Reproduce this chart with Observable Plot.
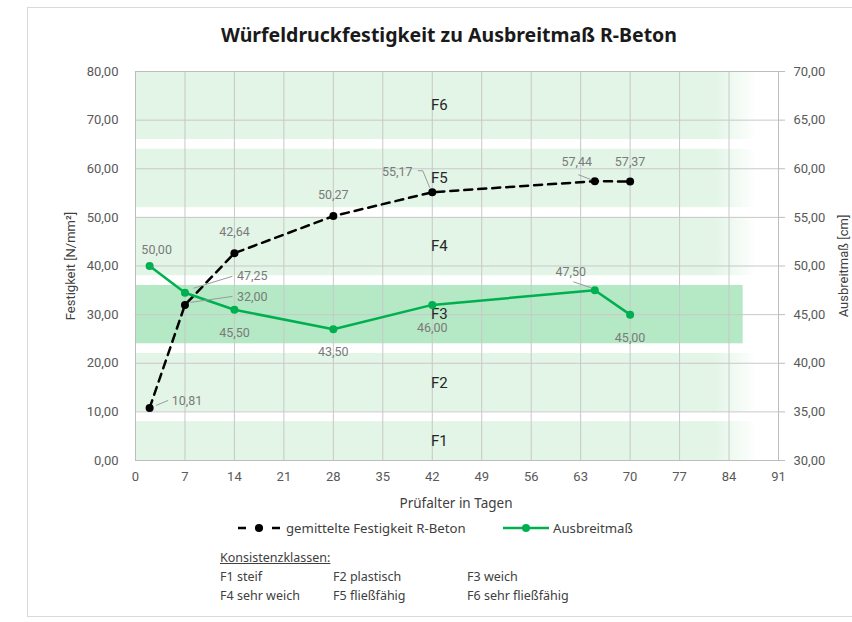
<!DOCTYPE html>
<html>
<head>
<meta charset="utf-8">
<script src="https://cdn.jsdelivr.net/npm/d3@7"></script>
<script src="https://cdn.jsdelivr.net/npm/@observablehq/plot@0.6"></script>
<style>
  body { margin: 0; background: #fff; }
  #wrap { position: relative; width: 852px; height: 622px; overflow: hidden; background: #fff; }
  #frame { position: absolute; left: 27px; top: 7px; width: 840px; height: 610px; border: 1px solid #d9d9d9; box-sizing: border-box; }
  #chart { position: absolute; left: 0; top: 0; }
  .t { position: absolute; white-space: nowrap; font-family: "Noto Sans", "Open Sans", sans-serif; color: #404040; line-height: 16px; }
  #title { top: 24px; font-weight: 700; font-size: 19.5px; color: #1a1a1a; line-height: 22px; text-align: center; }
  .leg { font-size: 12.5px; }
</style>
</head>
<body>
<div id="wrap">
  <div id="frame"></div>
  <div id="chart"></div>
  <div class="t" id="title" style="left:0;width:898px;">Würfeldruckfestigkeit zu Ausbreitmaß R-Beton</div>
  <div class="t" id="xlabel" style="left:0;width:912px;text-align:center;top:495px;font-size:13.5px;">Prüfalter in Tagen</div>
  <div id="legend"></div>
</div>
<script>
// ---------- data ----------
const days = [2, 7, 14, 28, 42, 65, 70];
const festigkeit = [10.81, 32.00, 42.64, 50.27, 55.17, 57.44, 57.37];      // N/mm²
const ausbreitmass = [50.00, 47.25, 45.50, 43.50, 46.00, 47.50, 45.00];    // cm
const classes = ["F1", "F2", "F3", "F4", "F5", "F6"];
const classLow = [30, 35, 42, 49, 56, 63];     // cm
const classHigh = [34, 41, 48, 55, 62, 70];    // cm
const classNames = ["steif", "plastisch", "weich", "sehr weich", "fließfähig", "sehr fließfähig"];
const xTicks = [0, 7, 14, 21, 28, 35, 42, 49, 56, 63, 70, 77, 84, 91];
const leftTicks = [0, 10, 20, 30, 40, 50, 60, 70, 80];
const rightTicks = [30, 35, 40, 45, 50, 55, 60, 65, 70];
const seriesNames = ["gemittelte Festigkeit R-Beton", "Ausbreitmaß"];

// ---------- helpers ----------
const fmt = v => v.toFixed(2).replace(".", ",");
const toLeft = cm => (cm - 30) * 2;   // right axis (30..70 cm) -> left axis (0..80)
const bandEnd = 86;
const green = "#00b050";
const lightBand = "#e2f5e6";
const strongBand = "#b5e8c5";

const fest = days.map((d, i) => ({day: d, v: festigkeit[i], raw: festigkeit[i]}));
const ausb = days.map((d, i) => ({day: d, v: toLeft(ausbreitmass[i]), raw: ausbreitmass[i]}));
const bands = classes.map((c, i) => ({name: c, lo: toLeft(classLow[i]), hi: toLeft(classHigh[i]), mid: toLeft((classLow[i] + classHigh[i]) / 2)}));

// label layout (pixel offsets relative to point)
const festLayout = [
  {dx: 22, dy: -7, anchor: "start", leader: [[7, -2], [19, -7]]},
  {dx: 52, dy: -8, anchor: "start", leader: [[6, -2], [48, -8]]},
  {dx: 0, dy: -21, anchor: "middle"},
  {dx: 0, dy: -21, anchor: "middle"},
  {dx: -35, dy: -20, anchor: "middle", leader: [[-14, -21], [-9, -21], [-2, -4]]},
  {dx: -18, dy: -19, anchor: "middle", leader: [[-16, -6], [-3, -1]]},
  {dx: 0, dy: -20, anchor: "middle"}
];
const ausbLayout = [
  {dx: 7, dy: -16, anchor: "middle"},
  {dx: 52, dy: -17, anchor: "start", leader: [[9, -4], [48, -16]]},
  {dx: 0, dy: 23, anchor: "middle"},
  {dx: 0, dy: 23, anchor: "middle"},
  {dx: 0, dy: 23, anchor: "middle"},
  {dx: -24, dy: -18, anchor: "middle", leader: [[-21, -8], [-3, -2]]},
  {dx: 0, dy: 23, anchor: "middle"}
];

const labelFont = "Roboto, 'Liberation Sans', sans-serif";

function labelMarks(data, layout) {
  return data.map((d, i) => Plot.text([d], {
    x: "day", y: "v", text: p => fmt(p.raw),
    dx: layout[i].dx, dy: layout[i].dy, textAnchor: layout[i].anchor,
    fill: "#7a7a7a", fontSize: 12.5, fontFamily: labelFont
  }));
}

function leaderMark(data, layout) {
  return (index, scales) => {
    const ns = "http://www.w3.org/2000/svg";
    const g = document.createElementNS(ns, "g");
    data.forEach((d, i) => {
      const L = layout[i].leader;
      if (!L) return;
      const px = scales.x(d.day), py = scales.y(d.v);
      const p = document.createElementNS(ns, "polyline");
      p.setAttribute("points", L.map(([a, b]) => `${px + a},${py + b}`).join(" "));
      p.setAttribute("fill", "none");
      p.setAttribute("stroke", "#9a9a9a");
      p.setAttribute("stroke-width", "1");
      g.appendChild(p);
    });
    return g;
  };
}

const defsMark = () => {
  const ns = "http://www.w3.org/2000/svg";
  const defs = document.createElementNS(ns, "defs");
  defs.innerHTML = `
    <linearGradient id="fadeLight" x1="0" x2="1" y1="0" y2="0">
      <stop offset="0" stop-color="${lightBand}"/>
      <stop offset="0.93" stop-color="${lightBand}"/>
      <stop offset="1" stop-color="${lightBand}" stop-opacity="0"/>
    </linearGradient>`;
  return defs;
};

const chart = Plot.plot({
  width: 852,
  height: 490,
  marginLeft: 135,
  marginRight: 74,
  marginTop: 71,
  marginBottom: 30,
  x: {domain: [0, 91]},
  y: {domain: [0, 80]},
  style: {fontFamily: "Roboto, 'Liberation Sans', sans-serif", fontSize: "13px", color: "#595959", background: "transparent", overflow: "visible"},
  marks: [
    defsMark,
    Plot.rect(bands.filter(b => b.name !== "F3"), {x1: 0, x2: bandEnd + 2, y1: "lo", y2: "hi", fill: "url(#fadeLight)"}),
    Plot.rect(bands.filter(b => b.name === "F3"), {x1: 0, x2: bandEnd, y1: "lo", y2: "hi", fill: strongBand}),
    Plot.gridX(xTicks, {stroke: "#c8c8c8", strokeOpacity: 1}),
    Plot.gridY(leftTicks, {stroke: "#c8c8c8", strokeOpacity: 1}),
    Plot.frame({stroke: "#bdbdbd"}),
    Plot.axisX(xTicks, {tickSize: 0, tickPadding: 11, label: null, tickFormat: d => String(d), fill: "#595959"}),
    Plot.axisY(leftTicks, {anchor: "left", tickSize: 0, tickPadding: 17, label: null, tickFormat: fmt, fill: "#595959"}),
    Plot.axisY(rightTicks.map(toLeft), {anchor: "right", tickSize: 6, tickPadding: 9, label: null, tickFormat: d => fmt(d / 2 + 30), stroke: "#bdbdbd", fill: "#595959"}),
    Plot.text(bands, {x: bandEnd / 2, y: "mid", text: "name", fontSize: 15, fill: "#262626", fontFamily: "Roboto, 'Liberation Sans', sans-serif"}),
    Plot.line(fest, {x: "day", y: "v", stroke: "#000", strokeWidth: 2.5, strokeDasharray: "8,6"}),
    Plot.dot(fest, {x: "day", y: "v", r: 4, fill: "#000"}),
    Plot.line(ausb, {x: "day", y: "v", stroke: green, strokeWidth: 2.5}),
    Plot.dot(ausb, {x: "day", y: "v", r: 4, fill: green}),
    leaderMark(fest, festLayout),
    leaderMark(ausb, ausbLayout),
    ...labelMarks(fest, festLayout),
    ...labelMarks(ausb, ausbLayout),
    Plot.text(["Festigkeit [N/mm²]"], {frameAnchor: "left", dx: -65, rotate: -90, textAnchor: "middle", text: d => d, fontSize: 13, fill: "#404040"}),
    Plot.text(["Ausbreitmaß [cm]"], {frameAnchor: "right", dx: 65, rotate: -90, textAnchor: "middle", text: d => d, fontSize: 13, fill: "#404040"})
  ]
});
document.getElementById("chart").appendChild(chart);

// ---------- legend (HTML) ----------
const leg = document.getElementById("legend");
const swDash = `<svg width="46" height="12" style="position:absolute;left:236px;top:522px"><line x1="2" x2="44" y1="6" y2="6" stroke="#000" stroke-width="2.5" stroke-dasharray="8,9"/><circle cx="23" cy="6" r="4" fill="#000"/></svg>`;
const swGreen = `<svg width="48" height="12" style="position:absolute;left:502px;top:522px"><line x1="1" x2="47" y1="6" y2="6" stroke="${green}" stroke-width="2.5"/><circle cx="24" cy="6" r="4" fill="${green}"/></svg>`;
let html = swDash + swGreen;
html += `<div class="t leg" style="left:286px;top:520px;font-size:13.2px">${seriesNames[0]}</div>`;
html += `<div class="t leg" style="left:553px;top:520px;font-size:13.2px">${seriesNames[1]}</div>`;
html += `<div class="t leg" style="left:220px;top:550px;text-decoration:underline">Konsistenzklassen:</div>`;
const colX = [220, 333, 467];
classes.forEach((c, i) => {
  const row = Math.floor(i / 3), col = i % 3;
  html += `<div class="t leg" style="left:${colX[col]}px;top:${569 + row * 19}px">${c} ${classNames[i]}</div>`;
});
leg.innerHTML = html;
</script>
</body>
</html>
